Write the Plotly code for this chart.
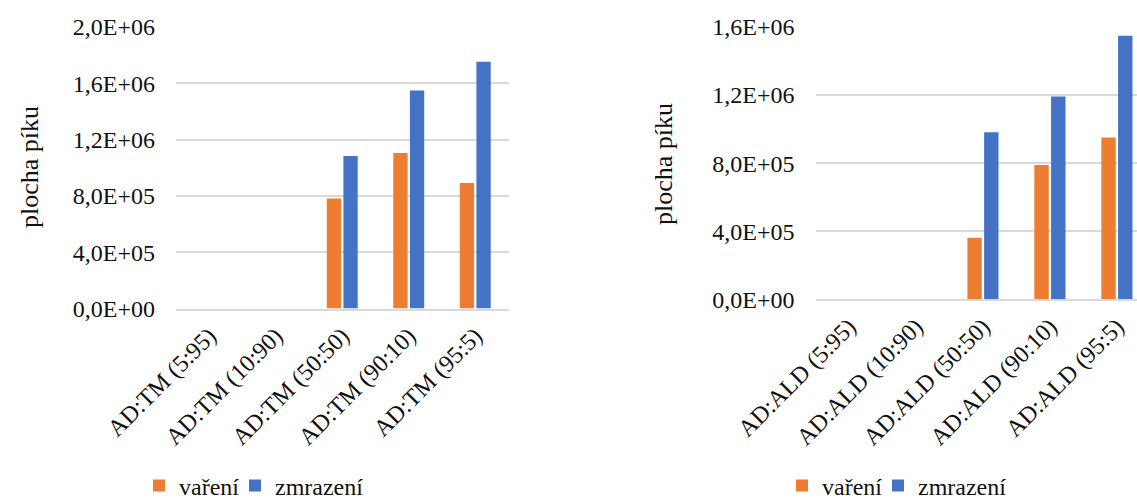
import plotly.graph_objects as go

# Peak areas for the two mixture series
tm_categories = ["AD:TM (5:95)", "AD:TM (10:90)", "AD:TM (50:50)", "AD:TM (90:10)", "AD:TM (95:5)"]
tm_vareni = [0, 0, 7.81e5, 1.105e6, 8.92e5]
tm_zmrazeni = [0, 0, 1.084e6, 1.549e6, 1.753e6]

ald_categories = ["AD:ALD (5:95)", "AD:ALD (10:90)", "AD:ALD (50:50)", "AD:ALD (90:10)", "AD:ALD (95:5)"]
ald_vareni = [0, 0, 3.61e5, 7.89e5, 9.50e5]
ald_zmrazeni = [0, 0, 9.81e5, 1.192e6, 1.548e6]

tm_tickvals = [0, 4e5, 8e5, 1.2e6, 1.6e6, 2.0e6]
tm_ticktext = ["0,0E+00", "4,0E+05", "8,0E+05", "1,2E+06", "1,6E+06", "2,0E+06"]
ald_tickvals = [0, 4e5, 8e5, 1.2e6, 1.6e6]
ald_ticktext = ["0,0E+00", "4,0E+05", "8,0E+05", "1,2E+06", "1,6E+06"]

series_names = ["vaření", "zmrazení"]
y_title = "plocha píku"

ORANGE = "#ED7D31"
BLUE = "#4472C4"
FONT = "Liberation Serif"
TEXT = "#111111"
W, H = 1137, 500

fig = go.Figure()
fig.add_trace(go.Bar(x=tm_categories, y=tm_vareni, name=series_names[0], marker_color=ORANGE,
                     xaxis="x", yaxis="y", legend="legend", legendwidth=51))
fig.add_trace(go.Bar(x=tm_categories, y=tm_zmrazeni, name=series_names[1], marker_color=BLUE,
                     xaxis="x", yaxis="y", legend="legend"))
fig.add_trace(go.Bar(x=ald_categories, y=ald_vareni, name=series_names[0], marker_color=ORANGE,
                     xaxis="x2", yaxis="y2", legend="legend2", legendwidth=51))
fig.add_trace(go.Bar(x=ald_categories, y=ald_zmrazeni, name=series_names[1], marker_color=BLUE,
                     xaxis="x2", yaxis="y2", legend="legend2"))

font24 = dict(family=FONT, size=24, color=TEXT)
font26 = dict(family=FONT, size=26, color=TEXT)
grid = dict(showgrid=True, gridcolor="#d9d9d9", gridwidth=1.5, zeroline=False,
            showline=False, ticks="", automargin=False)
cat_axis = dict(type="category", tickangle=-45, tickfont=font24, showgrid=False,
                showline=True, linecolor="#d9d9d9", linewidth=1.5, ticks="",
                ticklabelstandoff=2, automargin=False)
legend_style = dict(orientation="h", xanchor="left", yanchor="middle", font=font24,
                    bgcolor="rgba(0,0,0,0)", itemwidth=30)

fig.update_layout(
    template="none",
    font=font24,
    width=W, height=H,
    margin=dict(l=0, r=0, t=0, b=0, autoexpand=False),
    paper_bgcolor="white", plot_bgcolor="white",
    barmode="group", bargap=0.5, bargroupgap=0.14,
    xaxis=dict(domain=[176 / W, 508.5 / W], anchor="y", **cat_axis),
    yaxis=dict(domain=[1 - 308.5 / H, 1 - 27 / H], anchor="x", range=[0, 2.0e6],
               tickvals=tm_tickvals, ticktext=tm_ticktext, tickfont=font24,
               ticklabelstandoff=20, **grid),
    xaxis2=dict(domain=[815.5 / W, 1.0], anchor="y2", range=[-0.5, 4.3], **cat_axis),
    yaxis2=dict(domain=[1 - 299.3 / H, 1 - 27 / H], anchor="x2", range=[0, 1.6e6],
                tickvals=ald_tickvals, ticktext=ald_ticktext, tickfont=font24,
                ticklabelstandoff=20, **grid),
    legend=dict(x=139 / W, y=1 - 486 / H, **legend_style),
    legend2=dict(x=782 / W, y=1 - 486 / H, **legend_style),
    annotations=[
        dict(text=y_title, xref="paper", yref="paper", x=29 / W, y=1 - 167 / H,
             xanchor="center", yanchor="middle",
             textangle=-90, showarrow=False, font=font26),
        dict(text=y_title, xref="paper", yref="paper", x=663 / W, y=1 - 164 / H,
             xanchor="center", yanchor="middle",
             textangle=-90, showarrow=False, font=font26),
    ],
)

fig.write_html("out.html")
